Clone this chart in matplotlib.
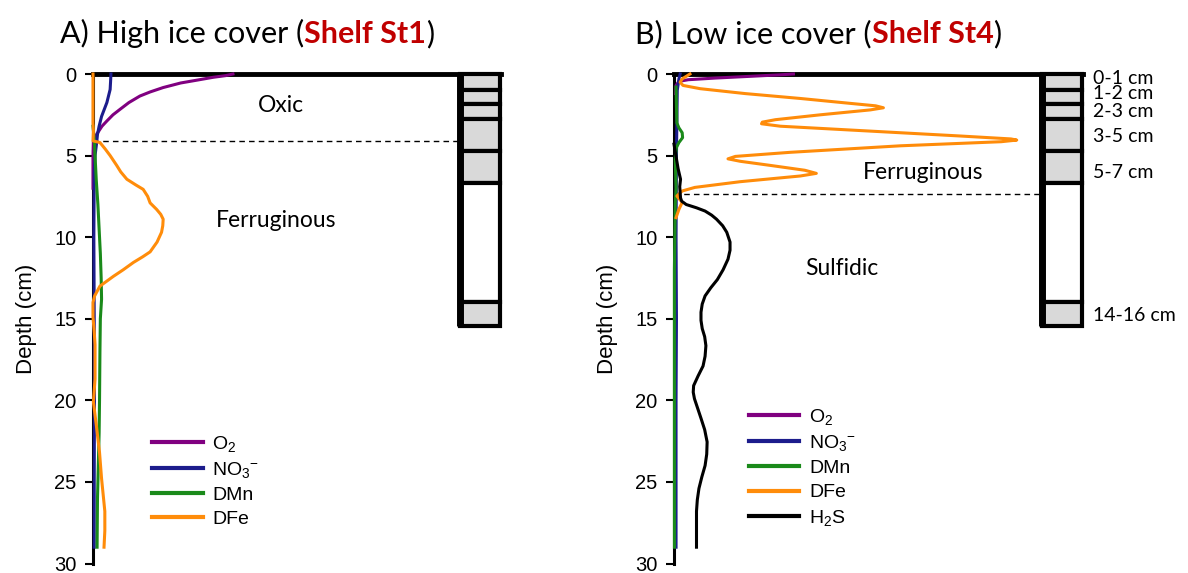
import matplotlib.pyplot as plt
from matplotlib.patches import Rectangle
from matplotlib.lines import Line2D

# porewater profiles, relative concentration (x) against depth in cm (y)
# station Shelf St1, high ice cover
st1_o2_depth = [0, 0.1, 0.2, 0.38, 0.55, 0.83, 1.1, 1.35, 1.75, 2.17, 2.5, 2.88,
                3.2, 3.58, 3.85, 4.1, 5.0, 7.0]
st1_o2 = [34.3, 32.5, 29.5, 25.4, 21.5, 17.2, 14.0, 11.5, 8.8, 6.6, 4.9, 3.4,
          2.2, 1.2, 0.5, 0.1, 0.0, 0.0]

st1_no3_depth = [0, 0.5, 0.95, 1.75, 2.6, 3.2, 3.7, 4.2, 5.0, 6.0, 10, 15, 20, 25, 29]
st1_no3 = [4.4, 4.3, 4.2, 3.4, 2.1, 1.5, 1.1, 0.9, 0.5, 0.3, 0.2, 0.3, 0.35, 0.3, 0.3]

st1_dmn_depth = [3.2, 4, 5, 6.5, 8, 9.5, 11, 12.5, 13.8, 15, 17, 20, 22, 24, 26, 29]
st1_dmn = [0, 0.3, 0.5, 0.8, 1.2, 1.5, 1.8, 2.0, 2.1, 1.8, 1.7, 1.6, 1.5, 1.3, 1.1, 1.0]

st1_dfe_depth = [0, 1, 2, 3, 3.5, 4.1, 4.2, 4.6, 5.0, 5.6, 6.0, 6.45, 6.8, 7.07, 7.5,
                 7.9, 8.3, 8.6, 8.9, 9.3, 9.7, 10.3, 10.9, 11.2, 11.55, 12.0, 12.4,
                 13.0, 13.6, 14.0, 14.9, 15.8, 16.6, 18.7, 20.1, 21.7, 23.2, 24.8,
                 26.8, 28, 29]
st1_dfe = [0, 0, 0, 0, 0.1, 0, 1.7, 3.0, 4.2, 5.8, 6.8, 8.3, 10.5, 12.3, 13.4,
           14.0, 15.6, 16.6, 17.2, 17.1, 16.8, 15.7, 14.0, 12.2, 9.9, 7.4, 5.0,
           1.7, 0.4, 0.0, 0.0, 0.3, 0.5, 0.5, 0.1, 0.9, 1.6, 2.1, 2.9, 2.9, 2.7]

# station Shelf St4, low ice cover
st4_o2_depth = [0, 0.05, 0.15, 0.25, 0.35, 0.45, 0.7, 1.2]
st4_o2 = [29.2, 26.0, 18.0, 10.0, 3.5, 1.2, 0.5, 0.4]

st4_no3_depth = [0, 0.3, 1, 3, 5, 10, 15, 20, 25, 29]
st4_no3 = [1.5, 1.2, 0.8, 0.7, 0.6, 0.5, 0.6, 0.5, 0.5, 0.5]

st4_dmn_depth = [0.8, 2, 3.0, 3.3, 3.6, 3.9, 4.2, 4.5, 5.2, 7, 8, 12, 20, 29]
st4_dmn = [0.5, 0.6, 0.7, 1.2, 2.0, 2.1, 1.2, 0.6, 0.3, 0.5, 0.3, 0.1, 0.1, 0.1]

st4_dfe_depth = [0, 0.3, 0.5, 0.7, 0.9, 1.2, 1.5, 1.8, 1.95, 2.07, 2.2, 2.5, 2.8,
                 2.95, 3.05, 3.2, 3.5, 3.8, 3.98, 4.05, 4.15, 4.4, 4.8, 5.05, 5.2,
                 5.35, 5.6, 5.9, 6.09, 6.25, 6.6, 6.95, 7.17, 7.48, 7.87, 8.3, 8.8]
st4_dfe = [3.9, 2.0, 1.5, 2.2, 6.4, 17.4, 30.9, 43.1, 49.3, 51.2, 48.0, 35.8, 24.8,
           21.6, 21.4, 26.0, 48.0, 70.0, 82.4, 83.8, 80.0, 55.4, 28.4, 15.0, 13.2,
           16.2, 23.5, 32.0, 34.8, 30.9, 16.2, 5.1, 2.0, 0.7, 2.0, 1.2, 0.5]

st4_h2s_depth = [4.3, 4.6, 5.2, 5.8, 6.45, 6.9, 7.27, 7.6, 7.8, 8.0, 8.2, 8.4, 8.65,
                 8.9, 9.3, 9.7, 10.3, 10.8, 11.35, 12.0, 12.6, 13.1, 13.6, 14.1, 14.6,
                 15.1, 15.6, 16.1, 16.65, 17.3, 17.9, 18.5, 19.1, 19.5, 19.9, 20.5,
                 21.1, 21.8, 22.55, 23.3, 24.0, 24.7, 25.4, 26.1, 26.8, 28, 29.0]
st4_h2s = [0, 0.2, 0.6, 1.0, 1.6, 1.4, 1.5, 1.6, 1.9, 3.0, 5.5, 7.6, 9.2,
           10.4, 11.9, 12.9, 13.7, 13.7, 13.2, 12.0, 10.6, 9.0, 7.6, 6.9, 6.6,
           6.6, 6.9, 7.5, 7.8, 7.6, 7.1, 5.9, 4.8, 4.7, 5.0, 5.8,
           6.6, 7.5, 8.1, 8.0, 7.6, 6.8, 6.1, 5.7, 5.5, 5.5, 5.5]

# core slicing (cm) and redox boundaries
slice_edges = [0, 0.95, 1.85, 2.75, 4.72, 6.66, 14.0, 15.43]
slice_sampled = [True, True, True, True, True, False, True]
slice_labels = ['0-1 cm', '1-2 cm', '2-3 cm', '3-5 cm', '5-7 cm', '14-16 cm']
slice_label_depths = [0.28, 1.21, 2.27, 3.84, 6.04, 14.8]
st1_boundary = 4.1
st4_boundary = 7.37

COLORS = {'O2': '#800080', 'NO3': '#1c1c8c', 'DMn': '#1a8a1a',
          'DFe': '#ff8c0a', 'H2S': '#000000'}
LABELS = {'O2': r'O$\mathregular{_2}$', 'NO3': r'NO$\mathregular{_3}^{\mathregular{-}}$',
          'DMn': 'DMn', 'DFe': 'DFe', 'H2S': r'H$\mathregular{_2}$S'}

ARIAL = 'Liberation Sans'
CALIBRI = 'Lato'
plt.rcParams['mathtext.fontset'] = 'custom'
plt.rcParams['mathtext.rm'] = ARIAL
plt.rcParams['mathtext.it'] = ARIAL

fig = plt.figure(figsize=(11.88, 5.73), dpi=100)
ax_a = fig.add_axes([93 / 1188, 9.5 / 573, 408 / 1188, 489.5 / 573])
ax_b = fig.add_axes([674 / 1188, 9.5 / 573, 409 / 1188, 489.5 / 573])


def style_axis(ax):
    ax.set_xlim(0, 100)
    ax.set_ylim(30, 0)
    ax.set_yticks(range(0, 31, 5))
    ax.set_xticks([])
    ax.spines['right'].set_visible(False)
    ax.spines['bottom'].set_visible(False)
    ax.spines['left'].set_linewidth(2.2)
    ax.spines['top'].set_linewidth(3.5)
    ax.tick_params(axis='y', direction='out', length=6, width=1.5, pad=6,
                   labelsize=14.5)
    for lab in ax.get_yticklabels():
        lab.set_fontfamily(ARIAL)
    ax.set_ylabel('Depth (cm)', fontsize=16, family=ARIAL, labelpad=12)


def draw_core(ax):
    x0, x1 = 90.0, 99.8
    for top, bot, sampled in zip(slice_edges[:-1], slice_edges[1:], slice_sampled):
        ax.add_patch(Rectangle((x0, top), x1 - x0, bot - top,
                               facecolor='#d9d9d9' if sampled else 'white',
                               edgecolor='black', lw=3, clip_on=False, zorder=4))
    # heavier left wall of the core liner
    ax.plot([x0, x0], [slice_edges[0], slice_edges[-1]], color='black', lw=5,
            solid_capstyle='butt', clip_on=False, zorder=5)


def plot_profiles(ax, profiles):
    handles = []
    for key, depth, values in profiles:
        ax.plot(values, depth, color=COLORS[key], lw=2.2, clip_on=False, zorder=3)
        handles.append(Line2D([], [], color=COLORS[key], lw=3))
    return handles


def legend(ax, keys, handles, anchor):
    ax.legend(handles, [LABELS[k] for k in keys], loc='upper left',
              bbox_to_anchor=anchor, frameon=False, borderpad=0,
              borderaxespad=0, handlelength=2.6, handletextpad=0.5,
              labelspacing=0.33, prop={'family': ARIAL, 'size': 14})


def draw_title(x_px, y_px, parts):
    renderer = fig.canvas.get_renderer()
    x = x_px / 1188
    for text, color, weight in parts:
        t = fig.text(x, 1 - y_px / 573, text, color=color, fontweight=weight,
                     fontsize=22, family=CALIBRI, va='baseline')
        x = t.get_window_extent(renderer).x1 / fig.bbox.width


# panel A
style_axis(ax_a)
keys_a = ['O2', 'NO3', 'DMn', 'DFe']
h = plot_profiles(ax_a, [('O2', st1_o2_depth, st1_o2),
                         ('NO3', st1_no3_depth, st1_no3),
                         ('DMn', st1_dmn_depth, st1_dmn),
                         ('DFe', st1_dfe_depth, st1_dfe)])
draw_core(ax_a)
ax_a.plot([0, 90], [st1_boundary, st1_boundary], color='black', lw=1, ls=(0, (4, 3)))
ax_a.text(46, 1.9, 'Oxic', ha='center', va='center', fontsize=16.5, family=CALIBRI)
ax_a.text(45, 9.0, 'Ferruginous', ha='center', va='center', fontsize=16.5, family=CALIBRI)
legend(ax_a, keys_a, h, (0.145, 0.265))

# panel B
style_axis(ax_b)
keys_b = ['O2', 'NO3', 'DMn', 'DFe', 'H2S']
h = plot_profiles(ax_b, [('O2', st4_o2_depth, st4_o2),
                         ('NO3', st4_no3_depth, st4_no3),
                         ('DMn', st4_dmn_depth, st4_dmn),
                         ('DFe', st4_dfe_depth, st4_dfe),
                         ('H2S', st4_h2s_depth, st4_h2s)])
draw_core(ax_b)
ax_b.plot([0, 90], [st4_boundary, st4_boundary], color='black', lw=1, ls=(0, (4, 3)))
ax_b.text(61, 6.05, 'Ferruginous', ha='center', va='center', fontsize=16.5, family=CALIBRI)
ax_b.text(41, 11.9, 'Sulfidic', ha='center', va='center', fontsize=16.5, family=CALIBRI)
for lab, d in zip(slice_labels, slice_label_depths):
    ax_b.text(102.4, d, lab, ha='left', va='center', fontsize=14, family=CALIBRI,
              clip_on=False)
legend(ax_b, keys_b, h, (0.183, 0.32))

draw_title(60, 43, [('A) High ice cover (', 'black', 'normal'),
                    ('Shelf St1', '#c00000', 'bold'),
                    (')', 'black', 'normal')])
draw_title(635, 43, [('B) Low ice cover (', 'black', 'normal'),
                     ('Shelf St4', '#c00000', 'bold'),
                     (')', 'black', 'normal')])

fig.savefig('out.png', dpi=100)
